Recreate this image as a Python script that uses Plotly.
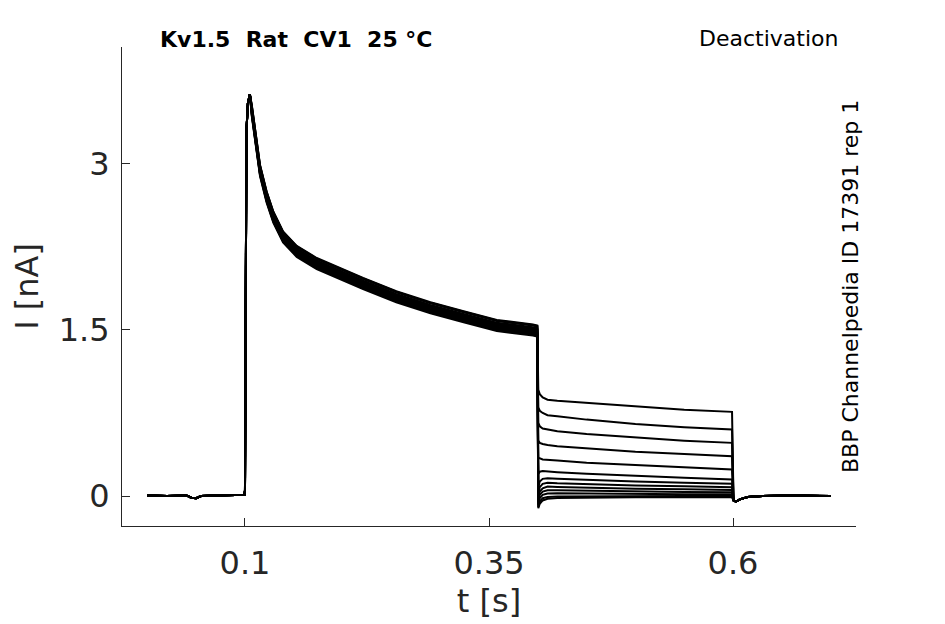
import plotly.graph_objects as go

# 时间轴 (s) 与电流 (nA)
pre_t = [0.0, 0.02, 0.04, 0.045, 0.05, 0.055, 0.07, 0.09, 0.0995]
pre_i = [0.005, 0.0, 0.005, -0.015, -0.02, 0.0, 0.005, 0.005, 0.01]

rise_t = [0.1, 0.1008, 0.1015, 0.103, 0.105]
rise_i = [0.05, 1.5, 3.3, 3.55, 3.63]

decay_t = [0.107, 0.110, 0.1154, 0.1222, 0.129, 0.139, 0.153, 0.1735, 0.197,
           0.221, 0.255, 0.290, 0.324, 0.358, 0.395, 0.3995]
decay_i = [3.48, 3.28, 2.94, 2.70, 2.52, 2.34, 2.21, 2.10, 2.01,
           1.92, 1.80, 1.70, 1.62, 1.54, 1.50, 1.49]

# 每条曲线在衰减段的小偏移 (nA)
decay_offset = [0.04, -0.025, 0.01, -0.05, 0.05, 0.0, -0.01,
                0.025, -0.035, 0.045, -0.02, 0.015, -0.04]

tail_t = [0.4005, 0.402, 0.405, 0.41, 0.42, 0.45, 0.5, 0.55, 0.599]
tail_i = [
    [0.96, 0.92, 0.89, 0.87, 0.86, 0.84, 0.81, 0.78, 0.76],
    [0.80, 0.77, 0.75, 0.73, 0.72, 0.69, 0.65, 0.62, 0.60],
    [0.66, 0.63, 0.61, 0.60, 0.585, 0.56, 0.53, 0.50, 0.48],
    [0.50, 0.48, 0.47, 0.46, 0.45, 0.43, 0.40, 0.38, 0.36],
    [0.34, 0.34, 0.33, 0.325, 0.32, 0.30, 0.28, 0.26, 0.24],
    [0.20, 0.22, 0.225, 0.22, 0.215, 0.20, 0.18, 0.165, 0.15],
    [0.08, 0.13, 0.155, 0.16, 0.155, 0.145, 0.13, 0.12, 0.11],
    [0.02, 0.08, 0.11, 0.12, 0.115, 0.105, 0.095, 0.087, 0.08],
    [-0.02, 0.04, 0.07, 0.085, 0.082, 0.075, 0.065, 0.06, 0.055],
    [-0.05, 0.01, 0.04, 0.052, 0.052, 0.047, 0.04, 0.036, 0.033],
    [-0.08, -0.02, 0.01, 0.022, 0.025, 0.022, 0.018, 0.016, 0.015],
    [-0.10, -0.05, -0.02, -0.008, -0.004, -0.002, 0.0, 0.0, 0.0],
    [-0.11, -0.07, -0.04, -0.025, -0.018, -0.014, -0.012, -0.012, -0.012],
]

post_t = [0.6005, 0.603, 0.607, 0.615, 0.63, 0.66, 0.69, 0.7]
post_i = [-0.04, -0.05, -0.03, -0.01, 0.0, 0.005, 0.0, 0.0]

x_ticks = [0.1, 0.35, 0.6]
x_tick_text = ['0.1', '0.35', '0.6']
y_ticks = [0, 1.5, 3]
y_tick_text = ['0', '1.5', '3']

AX_FONT = dict(family='DejaVu Sans', size=32, color='#262626')
TEXT_FONT = dict(family='DejaVu Sans', size=22, color='black')

# 页面 body 自带 8px 边距，图本身缩小 8px
W, H = 937, 616
L, R, T, B = 114, 89, 39, 98

fig = go.Figure()
for k, tail in enumerate(tail_i):
    t = pre_t + rise_t + decay_t + tail_t + post_t
    i = pre_i + rise_i + [v + decay_offset[k] for v in decay_i] + tail + post_i
    fig.add_trace(go.Scatter(x=t, y=i, mode='lines',
                             line=dict(color='black', width=2),
                             showlegend=False, hoverinfo='skip'))

fig.update_layout(
    width=W, height=H,
    margin=dict(l=L, r=R, t=T, b=B),
    plot_bgcolor='white', paper_bgcolor='white',
    xaxis=dict(range=[-0.026, 0.726], tickvals=x_ticks, ticktext=x_tick_text,
               ticks='inside', ticklen=8, tickcolor='#262626', showline=True,
               linecolor='#262626', linewidth=1, showgrid=False, zeroline=False,
               tickfont=AX_FONT, ticklabelstandoff=9, automargin=False,
               title=dict(text='t [s]', font=AX_FONT, standoff=4)),
    yaxis=dict(range=[-0.271, 4.056], tickvals=y_ticks, ticktext=y_tick_text,
               ticks='inside', ticklen=8, tickcolor='#262626', showline=True,
               linecolor='#262626', linewidth=1, showgrid=False, zeroline=False,
               tickfont=AX_FONT, ticklabelstandoff=5, automargin=False,
               title=dict(text='I [nA]', font=AX_FONT, standoff=17)),
)

# 注释位置以窗口像素给出，再换算为 paper 坐标
pw, ph = W - L - R, H - T - B
labels = [
    ('<b>Kv1.5  Rat  CV1  25 °C</b>', 296, 40, 'center', 0),
    ('Deactivation', 840, 39, 'right', 0),
    ('BBP Channelpedia ID 17391 rep 1', 850, 287, 'center', -90),
]
for text, px_x, px_y, anchor, angle in labels:
    fig.add_annotation(text=text, x=(px_x - 8 - L) / pw, y=(H - B - (px_y - 8)) / ph,
                       xref='paper', yref='paper', xanchor=anchor, yanchor='middle',
                       textangle=angle, showarrow=False, font=TEXT_FONT)

fig.write_html("out.html")
